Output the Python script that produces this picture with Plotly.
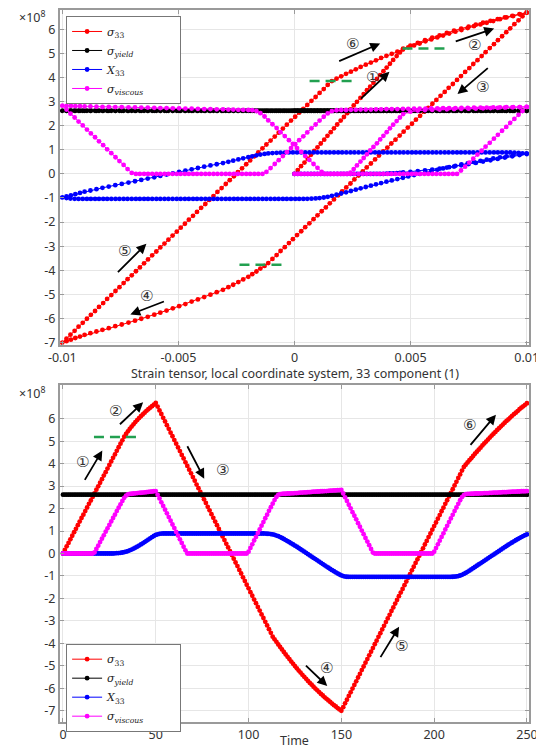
import plotly.graph_objects as go

# ---------------- data ----------------
time = list(range(0, 251))

# strain (33 component) in units of 1e-4, one value per time step
strain_e4 = (
    [0.0, 1.4, 2.8, 4.3, 5.7, 7.1, 8.5, 9.9, 11.3, 12.8, 14.2, 15.6, 17.0, 18.4, 19.9, 21.3, 22.7,
     24.1, 25.5, 26.9, 28.4, 29.8, 31.2, 32.6, 34.0, 35.5, 36.9, 38.3, 39.7, 41.1, 42.5, 44.0, 45.4, 46.8]
    + [49.9, 53.1, 56.2, 59.3, 62.5, 65.6, 68.7, 71.8, 75.0, 78.1, 81.2, 84.4, 87.5, 90.6, 93.8, 96.9, 100.0]
    + [98.2, 96.5, 94.7, 92.9, 91.2, 89.4, 87.6, 85.9, 84.1, 82.3, 80.6, 78.8, 77.0, 75.3, 73.5, 71.7,
       70.0, 68.2, 66.4, 64.7, 62.9, 61.1, 59.4, 57.6, 55.9, 54.1, 52.3, 50.6, 48.8, 47.0, 45.3, 43.5,
       41.7, 40.0, 38.2, 36.4, 34.7, 32.9, 31.1, 29.4, 27.6, 25.8, 24.1, 22.3, 20.5, 18.8, 17.0, 15.2,
       13.5, 11.7, 9.9, 8.2, 6.4, 4.6, 2.9, 1.1, -0.7, -2.4, -4.2, -6.0, -7.7, -9.5, -11.3]
    + [-12.9, -14.7, -16.4, -18.2, -19.9, -22.1, -24.2, -26.4, -28.5, -30.8, -33.5, -36.2, -38.9,
       -41.6, -44.3, -47.0, -49.7, -52.4, -55.1, -57.8, -60.4, -63.2, -66.0, -68.7, -71.5, -74.4,
       -77.2, -80.0, -82.7, -85.3, -87.9, -90.4, -92.4, -94.4, -96.3, -98.2, -100.0]
    + [-98.2, -96.5, -94.7, -93.0, -91.2, -89.4, -87.7, -85.9, -84.2, -82.4, -80.7, -78.9, -77.1,
       -75.4, -73.6, -71.9, -70.1, -68.3, -66.6, -64.8, -63.1, -61.3, -59.5, -57.8, -56.0, -54.3,
       -52.5, -50.7, -49.0, -47.2, -45.5, -43.7, -42.0, -40.2, -38.4, -36.7, -34.9, -33.2, -31.4,
       -29.6, -27.9, -26.1, -24.4, -22.6, -20.8, -19.1, -17.3, -15.6, -13.8, -12.1, -10.3, -8.5,
       -6.8, -5.0, -3.3, -1.5, 0.3, 2.0, 3.8, 5.5, 7.3, 9.1, 10.8, 12.6, 14.3, 16.1]
    + [18.1, 20.1, 22.2, 24.3, 26.4, 28.5, 30.7, 32.9, 35.1, 37.3, 39.6, 41.9, 44.3, 46.7, 49.0,
       51.5, 53.9, 56.4, 58.9, 61.5, 64.0, 66.6, 69.3, 71.9, 74.6, 77.3, 80.1, 82.8, 85.6, 88.5,
       91.3, 94.2, 97.1, 100.0]
)

# stresses in units of 1e8
sigma33 = (
    [0.00, 0.16, 0.32, 0.47, 0.63, 0.79, 0.95, 1.10, 1.26, 1.42, 1.58, 1.73, 1.89, 2.05, 2.21, 2.36,
     2.52, 2.68, 2.84, 2.99, 3.15, 3.31, 3.47, 3.62, 3.78, 3.94, 4.10, 4.26, 4.41, 4.57, 4.73, 4.89,
     5.04, 5.20]
    + [5.32, 5.44, 5.55, 5.65, 5.75, 5.85, 5.94, 6.03, 6.11, 6.19, 6.27, 6.35, 6.42, 6.49, 6.56, 6.63, 6.70]
    + [6.54, 6.37, 6.21, 6.04, 5.88, 5.71, 5.55, 5.38, 5.22, 5.05, 4.89, 4.72, 4.56, 4.39, 4.23, 4.06,
       3.90, 3.73, 3.57, 3.40, 3.24, 3.07, 2.91, 2.74, 2.58, 2.41, 2.25, 2.08, 1.92, 1.75, 1.59, 1.42,
       1.26, 1.09, 0.93, 0.76, 0.60, 0.43, 0.27, 0.10, -0.07, -0.23, -0.40, -0.56, -0.73, -0.89, -1.06,
       -1.22, -1.39, -1.55, -1.72, -1.88, -2.05, -2.21, -2.38, -2.54, -2.71, -2.87, -3.04, -3.20, -3.37,
       -3.53, -3.70]
    + [-3.82, -3.93, -4.05, -4.16, -4.27, -4.38, -4.49, -4.60, -4.70, -4.81, -4.91, -5.01, -5.11,
       -5.21, -5.30, -5.40, -5.49, -5.58, -5.67, -5.76, -5.84, -5.93, -6.01, -6.09, -6.17, -6.25,
       -6.32, -6.40, -6.47, -6.54, -6.61, -6.68, -6.75, -6.81, -6.88, -6.94, -7.00]
    + [-6.84, -6.67, -6.51, -6.34, -6.18, -6.01, -5.85, -5.69, -5.52, -5.36, -5.19, -5.03, -4.86,
       -4.70, -4.53, -4.37, -4.21, -4.04, -3.88, -3.71, -3.55, -3.38, -3.22, -3.05, -2.89, -2.73,
       -2.56, -2.40, -2.23, -2.07, -1.90, -1.74, -1.58, -1.41, -1.25, -1.08, -0.92, -0.75, -0.59,
       -0.42, -0.26, -0.10, 0.07, 0.23, 0.40, 0.56, 0.73, 0.89, 1.06, 1.22, 1.38, 1.55, 1.71, 1.88,
       2.04, 2.21, 2.37, 2.54, 2.70, 2.86, 3.03, 3.19, 3.36, 3.52, 3.69, 3.85]
    + [3.95, 4.05, 4.15, 4.24, 4.34, 4.44, 4.53, 4.62, 4.71, 4.81, 4.90, 4.98, 5.07, 5.16, 5.25,
       5.33, 5.41, 5.50, 5.58, 5.66, 5.74, 5.82, 5.90, 5.97, 6.05, 6.13, 6.20, 6.27, 6.34, 6.42,
       6.49, 6.55, 6.62, 6.69]
)

sigma_yield = [2.62] * 251

x33 = (
    [0.0] * 28
    + [0.01, 0.015, 0.02, 0.03, 0.045, 0.06, 0.08, 0.11, 0.14, 0.175, 0.215, 0.26, 0.305, 0.355,
       0.405, 0.455, 0.51, 0.565, 0.62, 0.675, 0.73, 0.78, 0.825, 0.855, 0.875, 0.885, 0.89]
    + [0.89] * 54
    + [0.885, 0.88, 0.875, 0.865, 0.85, 0.83, 0.80, 0.77, 0.73, 0.69, 0.645, 0.60, 0.55, 0.50,
       0.45, 0.40, 0.35, 0.30, 0.245, 0.19, 0.135, 0.08, 0.025, -0.03, -0.085, -0.14, -0.195,
       -0.25, -0.305, -0.36, -0.415, -0.47, -0.525, -0.58, -0.635, -0.69, -0.74, -0.79, -0.84,
       -0.89, -0.935, -0.975, -1.005, -1.025, -1.035, -1.04]
    + [-1.04] * 55
    + [-1.035, -1.03, -1.02, -1.005, -0.98, -0.95, -0.91, -0.865, -0.815, -0.765, -0.71, -0.655,
       -0.60, -0.545, -0.49, -0.435, -0.38, -0.325, -0.27, -0.215, -0.16, -0.105, -0.05, 0.005,
       0.06, 0.115, 0.17, 0.225, 0.28, 0.335, 0.39, 0.44, 0.49, 0.54, 0.59, 0.64, 0.685, 0.73,
       0.775, 0.815, 0.855]
)

sigma_visc = (
    [0.0] * 17
    + [0.05, 0.20, 0.35, 0.51, 0.66, 0.81, 0.97, 1.12, 1.27, 1.43, 1.58, 1.73, 1.89, 2.04, 2.19,
       2.34, 2.48, 2.58, 2.63, 2.65, 2.66, 2.67, 2.68, 2.69, 2.70, 2.705, 2.71, 2.72, 2.73, 2.74,
       2.75, 2.76, 2.77, 2.78]
    + [2.61, 2.45, 2.28, 2.12, 1.95, 1.79, 1.62, 1.46, 1.29, 1.13, 0.96, 0.80, 0.63, 0.47, 0.30, 0.14]
    + [0.0] * 33
    + [0.08, 0.25, 0.41, 0.58, 0.74, 0.91, 1.07, 1.24, 1.40, 1.57, 1.73, 1.90, 2.06, 2.22, 2.38,
       2.52, 2.61, 2.64]
    + [2.65, 2.66, 2.66, 2.67, 2.67, 2.68, 2.68, 2.69, 2.69, 2.70, 2.71, 2.71, 2.72, 2.72, 2.73,
       2.73, 2.74, 2.75, 2.75, 2.76, 2.76, 2.77, 2.77, 2.78, 2.78, 2.79, 2.80, 2.80, 2.81, 2.81,
       2.82, 2.82, 2.83]
    + [2.67, 2.50, 2.34, 2.17, 2.01, 1.84, 1.68, 1.52, 1.35, 1.19, 1.02, 0.86, 0.69, 0.53, 0.37,
       0.20, 0.04]
    + [0.0] * 32
    + [0.08, 0.24, 0.41, 0.57, 0.74, 0.90, 1.07, 1.23, 1.40, 1.56, 1.72, 1.89, 2.05, 2.21, 2.37,
       2.51, 2.60, 2.64]
    + [2.65, 2.65, 2.66, 2.66, 2.67, 2.67, 2.67, 2.68, 2.68, 2.69, 2.69, 2.69, 2.70, 2.70, 2.71,
       2.71, 2.71, 2.72, 2.72, 2.73, 2.73, 2.73, 2.74, 2.74, 2.75, 2.75, 2.75, 2.76, 2.76, 2.77,
       2.77, 2.77, 2.78]
)

series_names = ["<i>σ</i><sub>33</sub>", "<i>σ<sub>yield</sub></i>",
                "<i>X</i><sub>33</sub>",
                "<i>σ<sub>viscous</sub></i>" + "&nbsp;" * 9]
series_colors = ["#ff0000", "#000000", "#0000ff", "#ff00ff"]

y_ticks = [-7, -6, -5, -4, -3, -2, -1, 0, 1, 2, 3, 4, 5, 6]
y_ticktext = ["-7", "-6", "-5", "-4", "-3", "-2", "-1", "0", "1", "2", "3", "4", "5", "6"]
strain_ticks = [-0.01, -0.005, 0, 0.005, 0.01]
strain_ticktext = ["-0.01", "-0.005", "0", "0.005", "0.01"]
time_ticks = [0, 50, 100, 150, 200, 250]
time_ticktext = ["0", "50", "100", "150", "200", "250"]

for arr in (strain_e4, sigma33, sigma_yield, x33, sigma_visc):
    assert len(arr) == len(time), len(arr)

strain = [v * 1e-4 for v in strain_e4]
series_values = [sigma33, sigma_yield, x33, sigma_visc]

# ---------------- figure ----------------
fig = go.Figure()

for name, col, vals in zip(series_names, series_colors, series_values):
    fig.add_trace(go.Scatter(
        x=strain, y=vals, name=name, mode="lines+markers",
        line=dict(color=col, width=1),
        marker=dict(color=col, size=4.8, symbol="circle", line=dict(width=0)),
        xaxis="x", yaxis="y", legend="legend"))

for name, col, vals in zip(series_names, series_colors, series_values):
    fig.add_trace(go.Scatter(
        x=time, y=vals, name=name, mode="lines+markers",
        line=dict(color=col, width=1),
        marker=dict(color=col, size=4.8, symbol="circle", line=dict(width=0)),
        xaxis="x2", yaxis="y2", legend="legend2"))

axis_style = dict(
    showgrid=True, gridcolor="#e6e6e6", gridwidth=1,
    showline=True, linecolor="#9a9a9a", linewidth=2, mirror="ticks",
    ticks="inside", ticklen=4, tickcolor="#9a9a9a", automargin=False,
    ticklabeloverflow="allow",
    zeroline=False, tickfont=dict(family="Noto Sans", size=12.5, color="#333333"),
)

legend_style = dict(xanchor="left", yanchor="top",
                    bgcolor="white", bordercolor="#777777", borderwidth=1,
                    font=dict(family="DejaVu Serif", size=11, color="#222222"),
                    tracegroupgap=0, itemwidth=30)

fig.update_layout(
    width=536, height=749,
    margin=dict(l=60, r=7, t=10, b=27, autoexpand=False),
    paper_bgcolor="white", plot_bgcolor="white",
    showlegend=True,
    xaxis=dict(domain=[0, 1], anchor="y", range=[-0.0101, 0.0101],
               tickvals=strain_ticks, ticktext=strain_ticktext, **axis_style),
    yaxis=dict(domain=[0.5295, 1], anchor="x", range=[-7.1, 6.8],
               tickvals=y_ticks, ticktext=y_ticktext, **axis_style),
    xaxis2=dict(domain=[0, 1], anchor="y2", range=[-1.6, 251.1],
                tickvals=time_ticks, ticktext=time_ticktext, **axis_style),
    yaxis2=dict(domain=[0, 0.4733], anchor="x2", range=[-7.5, 7.5],
                tickvals=y_ticks, ticktext=y_ticktext, **axis_style),
    legend=dict(x=0.013, y=0.9916, **legend_style),
    legend2=dict(x=0.013, y=0.110, **legend_style),
)

annotations = []
label_font = dict(family="Noto Sans", size=12.5, color="#333333")
annotations.append(dict(text="×10<sup>8</sup>", xref="paper", yref="paper",
                        x=-0.092, y=1.006, xanchor="left", yanchor="top",
                        showarrow=False, font=label_font))
annotations.append(dict(text="×10<sup>8</sup>", xref="paper", yref="paper",
                        x=-0.092, y=0.478, xanchor="left", yanchor="top",
                        showarrow=False, font=label_font))
annotations.append(dict(text="Strain tensor, local coordinate system, 33 component (1)",
                        xref="paper", yref="paper", x=0.5, y=0.4895,
                        xanchor="center", yanchor="middle", showarrow=False, font=label_font))
annotations.append(dict(text="Time", xref="paper", yref="paper", x=0.5, y=-0.0265,
                        xanchor="center", yanchor="middle", showarrow=False, font=label_font))

circ_font = dict(family="DejaVu Sans", size=15, color="#333333")
# (label, x, y, axes) circled step numbers
circles = [
    ("⑥", 0.00251, 5.41, "x", "y"), ("①", 0.00337, 4.03, "x", "y"),
    ("②", 0.00774, 5.34, "x", "y"), ("③", 0.0081, 3.61, "x", "y"),
    ("⑤", -0.00733, -3.22, "x", "y"), ("④", -0.00638, -5.08, "x", "y"),
    ("①", 10.4, 4.06, "x2", "y2"), ("②", 28.4, 6.36, "x2", "y2"),
    ("③", 85.7, 3.70, "x2", "y2"), ("⑥", 218.9, 5.70, "x2", "y2"),
    ("④", 141.8, -5.08, "x2", "y2"), ("⑤", 182.3, -4.12, "x2", "y2"),
]
for lab, cx, cy, xr, yr in circles:
    annotations.append(dict(text=lab, x=cx, y=cy, xref=xr, yref=yr,
                            showarrow=False, font=circ_font))

# arrows: (tail x, tail y, head x, head y, axes)
arrows = [
    (0.00186, 4.65, 0.00369, 5.41, "x", "y"),
    (0.0028, 3.06, 0.00409, 4.24, "x", "y"),
    (0.00688, 5.48, 0.0086, 6.03, "x", "y"),
    (0.00839, 4.44, 0.00702, 3.31, "x", "y"),
    (-0.00767, -4.14, -0.00638, -2.90, "x", "y"),
    (-0.00556, -5.27, -0.00707, -5.83, "x", "y"),
    (11.3, 3.21, 21.2, 4.59, "x2", "y2"),
    (29.9, 5.69, 43.2, 6.73, "x2", "y2"),
    (66.6, 4.84, 76.1, 3.33, "x2", "y2"),
    (218.9, 4.77, 233.3, 6.18, "x2", "y2"),
    (130.1, -4.93, 142.4, -5.90, "x2", "y2"),
    (170.6, -4.68, 181.1, -3.26, "x2", "y2"),
]
for tx, ty, hx, hy, xr, yr in arrows:
    annotations.append(dict(text="", x=hx, y=hy, ax=tx, ay=ty, xref=xr, yref=yr,
                            axref=xr, ayref=yr, showarrow=True, arrowhead=2,
                            arrowsize=1.1, arrowwidth=1.8, arrowcolor="black",
                            standoff=0, startstandoff=0))
fig.update_layout(annotations=annotations)

# green dashed markers of yield points: (x0, x1, y, axes)
dashes = [
    (0.00465, 0.00667, 5.2, "x", "y"),
    (0.00065, 0.00258, 3.85, "x", "y"),
    (-0.00237, -0.00034, -3.77, "x", "y"),
    (16.7, 41.0, 5.19, "x2", "y2"),
]
for x0, x1, yv, xr, yr in dashes:
    fig.add_shape(type="line", x0=x0, x1=x1, y0=yv, y1=yv, xref=xr, yref=yr,
                  line=dict(color="#22a050", width=2.5, dash="10px,6px"))

fig.write_html("out.html", config={"displayModeBar": False},
               post_script="document.body.style.margin='0px';document.body.style.overflow='hidden';")
